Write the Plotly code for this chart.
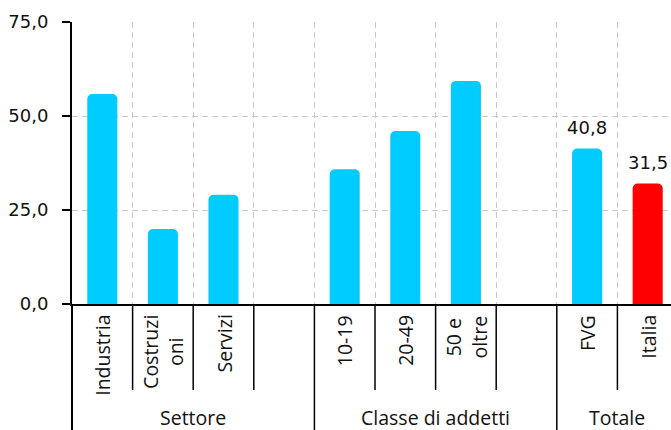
import plotly.graph_objects as go

# ---- data ----
categories = ["Industria", "Costruzi<br>oni", "Servizi", "", "10-19", "20-49",
              "50 e<br>oltre", "", "FVG", "Italia"]
values = [55.3, 19.4, 28.5, None, 35.3, 45.5, 58.8, None, 40.8, 31.5]
bar_colors = ["#00CCFF"] * 9 + ["#FF0000"]
labelled_idx = [8, 9]
groups = ["Settore", "Classe di addetti", "Totale"]
group_first = [0, 4, 8]
group_last = [3, 7, 9]
y_ticks = [0, 25, 50, 75]

# ---- layout constants ----
W, H = 671, 430
ML, MT, MB = 72, 22, 126
plot_h = H - MT - MB
slot_px = 60.6
n = len(categories)
x_hi = -0.5 + (W - ML) / slot_px


def py(px_below_axis):
    """paper y for a pixel distance below the x axis"""
    return -px_below_axis / plot_h


xs = list(range(n))
txt_color = "#111111"
num_font = dict(family="DejaVu Sans", size=18, color=txt_color)
cat_font = dict(family="Open Sans", size=19.5, color=txt_color)

fig = go.Figure()
fig.add_trace(go.Bar(
    x=xs, y=values,
    marker=dict(color=bar_colors, line=dict(color=bar_colors, width=4)),
    width=0.43,
    hoverinfo="skip",
))

annotations = []
# data labels
for i in labelled_idx:
    annotations.append(dict(
        x=xs[i], y=values[i], xref="x", yref="y",
        text=f"{values[i]:.1f}".replace(".", ","),
        showarrow=False, yanchor="middle", xanchor="center", yshift=23,
        font=num_font,
    ))
# category labels (rotated)
for i, c in enumerate(categories):
    if not c:
        continue
    annotations.append(dict(
        x=xs[i], y=0, xref="x", yref="paper", yshift=-9,
        text=c, textangle=-90, showarrow=False,
        xanchor="center", yanchor="top", align="center",
        font=cat_font,
    ))
# group labels
for g, a, b in zip(groups, group_first, group_last):
    annotations.append(dict(
        x=(a + b) / 2, y=py(417 - (H - MB)), xref="x", yref="paper",
        text=g, showarrow=False, xanchor="center", yanchor="middle",
        borderpad=0, font=cat_font,
    ))

shapes = []
group_bounds = [group_first[k] - 0.5 for k in range(1, len(group_first))]
for k in range(n - 1):
    b = k + 0.5
    long_line = b in group_bounds
    shapes.append(dict(
        type="line", xref="x", yref="paper", x0=b, x1=b,
        y0=0, y1=py(140) if long_line else py(390 - (H - MB)),
        line=dict(color="black", width=1.5),
    ))
shapes.append(dict(
    type="line", xref="paper", yref="paper", x0=0, x1=0,
    y0=0, y1=py(140), line=dict(color="black", width=2),
))

grid = dict(showgrid=True, gridcolor="#c8c8c8", gridwidth=1, griddash="6px,4px")

fig.update_layout(
    width=W, height=H,
    margin=dict(l=ML, r=0, t=MT, b=MB, pad=0),
    paper_bgcolor="white", plot_bgcolor="white",
    showlegend=False, separators=",.",
    barcornerradius=3,
    annotations=annotations, shapes=shapes,
    xaxis=dict(range=[-0.5, x_hi], tickmode="array",
               tickvals=[k + 0.5 for k in range(n - 1)],
               showticklabels=False, ticks="", zeroline=False,
               showline=True, linecolor="black", linewidth=2, **grid),
    yaxis=dict(range=[0, 75], tickmode="array", tickvals=y_ticks,
               tickformat=".1f", ticks="outside", ticklen=8, tickwidth=1.5,
               tickcolor="black", showline=True, linecolor="black",
               linewidth=2, zeroline=False, tickfont=num_font,
               ticklabelstandoff=10, **grid),
)

fig.write_html("out.html")
